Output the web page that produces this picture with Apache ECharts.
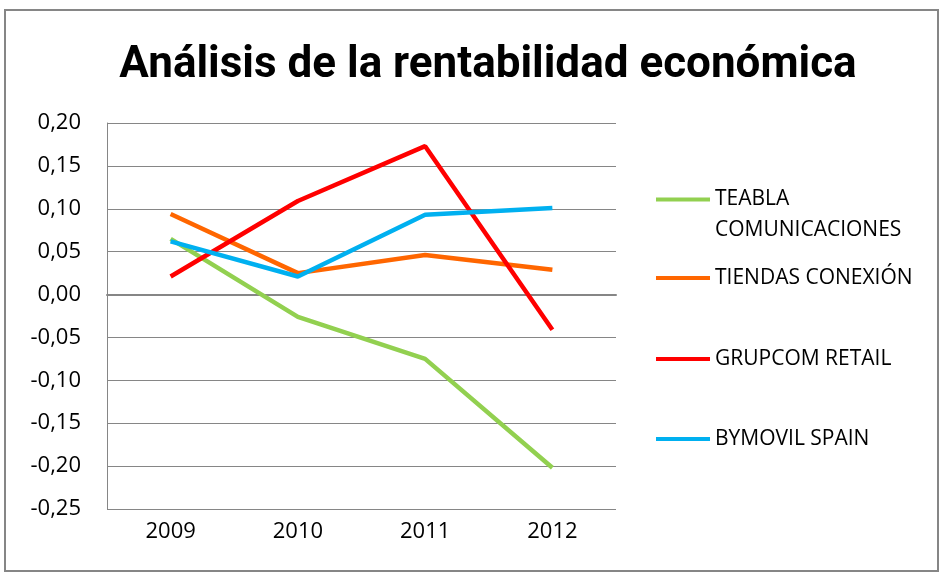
<!DOCTYPE html>
<html>
<head>
<meta charset="utf-8">
<script src="https://cdn.jsdelivr.net/npm/echarts@6/dist/echarts.min.js"></script>
<style>
  html, body { margin: 0; padding: 0; background: #fff; }
  #chart { width: 944px; height: 576px; }
</style>
</head>
<body>
<div id="chart"></div>
<script>
  // data
  const years = ['2009', '2010', '2011', '2012']
  const teabla = [0.065, -0.026, -0.075, -0.202]
  const tiendas = [0.094, 0.025, 0.046, 0.029]
  const grupcom = [0.021, 0.109, 0.173, -0.041]
  const bymovil = [0.062, 0.021, 0.093, 0.101]
  const names = ['TEABLA COMUNICACIONES', 'TIENDAS CONEXIÓN', 'GRUPCOM RETAIL', 'BYMOVIL SPAIN']
  const colors = ['#92D050', '#FF6600', '#FF0000', '#00B0F0']

  const myChart = echarts.init(document.getElementById('chart'))

  // one legend per item, the first one wraps on two lines
  const legendTops = [153, 266, 347, 427]
  const legends = names.map((n, i) => ({
    data: [n],
    left: 656,
    top: legendTops[i],
    padding: 0,
    itemWidth: 54,
    itemHeight: 14,
    icon: 'path://M0,5 L54,5 L54,9 L0,9 Z',
    formatter: i === 0 ? ' \nTEABLA\nCOMUNICACIONES' : '{name}',
    textStyle: {
      fontFamily: 'Open Sans',
      fontSize: 21,
      color: '#000',
      lineHeight: i === 0 ? 31 : 24
    }
  }))

  const seriesData = [teabla, tiendas, grupcom, bymovil]

  let option = {
    animation: false,
    title: {
      text: 'Análisis de la rentabilidad económica',
      left: 483,
      textAlign: 'center',
      top: 39,
      textStyle: {
        fontFamily: 'Roboto',
        fontWeight: 'bold',
        fontSize: 44,
        color: '#000'
      }
    },
    graphic: [{
      type: 'rect',
      shape: { x: 5, y: 10, width: 933, height: 561 },
      style: { fill: 'none', stroke: '#868686', lineWidth: 2 },
      silent: true
    }],
    legend: legends,
    grid: {
      left: 107,
      right: 328,
      top: 123,
      bottom: 67
    },
    xAxis: {
      type: 'category',
      data: years,
      boundaryGap: true,
      axisTick: { show: false },
      axisLine: { lineStyle: { color: '#868686', width: 2 } },
      axisLabel: { fontFamily: 'Open Sans', fontSize: 22, color: '#000', margin: 12 }
    },
    yAxis: {
      type: 'value',
      min: -0.25,
      max: 0.2,
      interval: 0.05,
      axisLine: { show: true, lineStyle: { color: '#868686', width: 1 } },
      axisTick: { show: false },
      splitLine: { lineStyle: { color: '#868686', width: 1 } },
      axisLabel: {
        fontFamily: 'Open Sans',
        fontSize: 22,
        color: '#000',
        margin: 26,
        formatter: v => {
          if (Math.abs(v) < 1e-9) v = 0
          return v.toFixed(2).replace('.', ',')
        }
      }
    },
    series: names.map((n, i) => ({
      name: n,
      type: 'line',
      data: seriesData[i],
      symbol: 'none',
      color: colors[i],
      lineStyle: { width: 4.5, color: colors[i] }
    }))
  }

  myChart.setOption(option)
</script>
</body>
</html>
